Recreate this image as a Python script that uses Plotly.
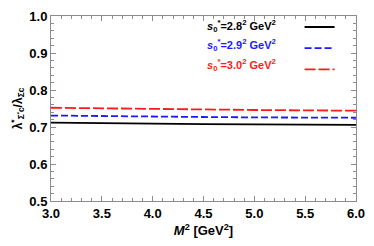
import plotly.graph_objects as go

m2 = [3.0, 3.5, 4.0, 4.5, 5.0, 5.5, 6.0]
ratio_28 = [0.712, 0.710, 0.709, 0.708, 0.707, 0.706, 0.706]
ratio_29 = [0.731, 0.729, 0.728, 0.727, 0.726, 0.725, 0.725]
ratio_30 = [0.752, 0.750, 0.748, 0.747, 0.746, 0.745, 0.744]

labels = [
    "<b><i>s</i><sub>0</sub><sup>*</sup>=2.8<sup>2</sup> GeV<sup>2</sup></b>",
    "<b><i>s</i><sub>0</sub><sup>*</sup>=2.9<sup>2</sup> GeV<sup>2</sup></b>",
    "<b><i>s</i><sub>0</sub><sup>*</sup>=3.0<sup>2</sup> GeV<sup>2</sup></b>",
]
colors = ["black", "#1a1aff", "#ff1a1a"]
dashes = ["solid", "7px,3px", "11px,3px"]
series = [ratio_28, ratio_29, ratio_30]

fig = go.Figure()
for vals, c, d, lab in zip(series, colors, dashes, labels):
    fig.add_trace(go.Scatter(x=m2, y=vals, mode="lines", name=" ",
                             line=dict(color=c, width=1.8, dash=d), showlegend=True,
                             hovertext=lab))

font = dict(family="Liberation Sans, Arial, sans-serif", size=13, color="black")
tickfont = dict(family="Liberation Sans, Arial", size=13, color="black", weight="bold")
axcommon = dict(showline=True, linecolor="#8c8c8c", linewidth=1, mirror="allticks",
                ticks="inside", ticklen=5, tickcolor="#8c8c8c", showgrid=False,
                zeroline=False, tickfont=tickfont)
fig.update_layout(
    width=374, height=246,
    margin=dict(l=51, r=11, t=9, b=45),
    paper_bgcolor="white", plot_bgcolor="white",
    font=font,
    xaxis=dict(range=[3.0, 6.0], dtick=0.5, tickformat=".1f",
               minor=dict(dtick=0.1, ticks="inside", ticklen=3, tickcolor="#8c8c8c"),
               title=dict(text="<b><i>M</i><sup>2</sup> [GeV<sup>2</sup>]</b>", standoff=6,
                          font=dict(size=13)),
               **axcommon),
    yaxis=dict(range=[0.5, 1.0], dtick=0.1, tickformat=".1f",
               minor=dict(dtick=0.02, ticks="inside", ticklen=3, tickcolor="#8c8c8c"),
               title=dict(text="<b>λ<sup>*</sup><sub>Σ<sup>*</sup>c</sub>/λ<sub>Σc</sub></b>", standoff=4,
                          font=dict(size=12)),
               **axcommon),
    legend=dict(x=0.815, y=1.025, xanchor="left", yanchor="top", bgcolor="rgba(0,0,0,0)",
                borderwidth=0, font=dict(size=14), tracegroupgap=0, itemwidth=30),
    showlegend=True,
)
for i, lab in enumerate(labels):
    fig.add_annotation(x=0.745, y=0.945 - 0.104 * i, xref="paper", yref="paper",
                       xanchor="right", yanchor="middle", text=lab, showarrow=False,
                       font=dict(size=11, color=colors[i], family="Liberation Sans, Arial"))

fig.write_html("out.html", post_script="document.body.style.margin='0';",
               config={"displayModeBar": False})
